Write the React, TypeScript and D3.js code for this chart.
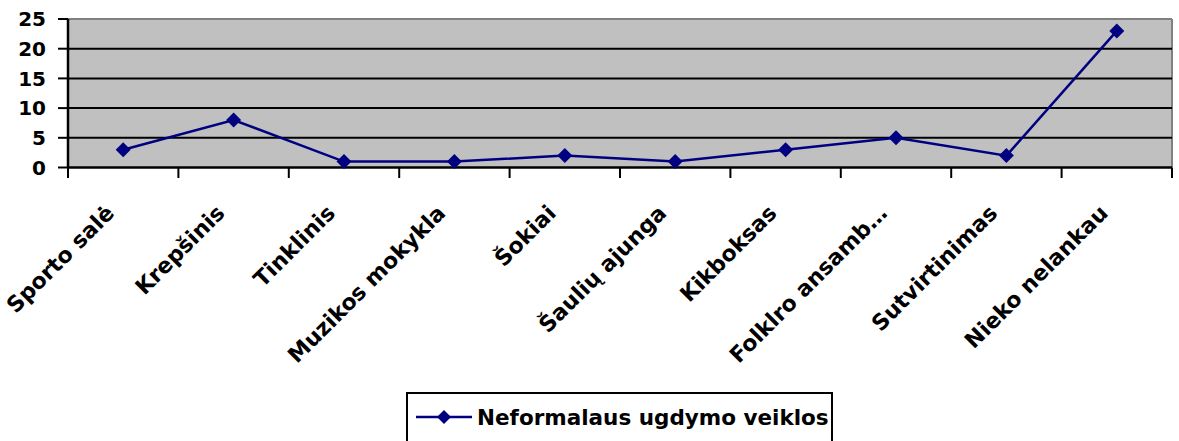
import React from "react";
import * as d3 from "d3";

const categories = [
  "Sporto salė",
  "Krepšinis",
  "Tinklinis",
  "Muzikos mokykla",
  "Šokiai",
  "Šaulių ajunga",
  "Kikboksas",
  "Folklro ansamb…",
  "Sutvirtinimas",
  "Nieko nelankau",
];
const values = [3, 8, 1, 1, 2, 1, 3, 5, 2, 23];
const yTicks = [0, 5, 10, 15, 20, 25];
const seriesName = "Neformalaus ugdymo veiklos";

const W = 1179;
const H = 441;
const left = 68;
const right = 1172;
const top = 19;
const bottom = 167.5;
const FONT = "'DejaVu Sans', Verdana, sans-serif";
const NAVY = "#000080";

export default function App() {
  const x = d3.scaleBand<string>().domain(categories).range([left, right]).padding(0);
  const y = d3.scaleLinear().domain([0, 25]).range([bottom, top]);
  const cx = (c: string) => (x(c) as number) + x.bandwidth() / 2;
  const line = d3
    .line<number>()
    .x((_, i) => cx(categories[i]))
    .y((d) => y(d));
  const diamond = (px: number, py: number, r = 7.5) =>
    `M${px},${py - r}L${px + r},${py}L${px},${py + r}L${px - r},${py}Z`;
  const boundaries = categories.map((c) => x(c) as number).concat([right]);

  return (
    <svg
      width={W}
      height={H}
      style={{ position: "absolute", left: 0, top: 0, display: "block" }}
    >
      <rect x={0} y={0} width={W} height={H} fill="#fff" />
      <rect x={left} y={top} width={right - left} height={bottom - top} fill="#C0C0C0" />
      <line x1={left} x2={right} y1={top} y2={top} stroke="#808080" strokeWidth={2} />
      <line x1={right} x2={right} y1={top} y2={bottom} stroke="#808080" strokeWidth={2} />
      {yTicks
        .filter((t) => t > 0 && t < 25)
        .map((t) => (
          <line key={t} x1={left} x2={right} y1={y(t)} y2={y(t)} stroke="#000" strokeWidth={2} />
        ))}
      <line x1={left} x2={left} y1={top} y2={bottom} stroke="#000" strokeWidth={2.5} />
      {yTicks.map((t) => (
        <g key={t}>
          <line x1={58} x2={left} y1={y(t)} y2={y(t)} stroke="#000" strokeWidth={2} />
          <text
            x={46}
            y={y(t)}
            dy="0.36em"
            textAnchor="end"
            fontFamily={FONT}
            fontWeight="bold"
            fontSize={20}
            fill="#000"
          >
            {t}
          </text>
        </g>
      ))}
      <line x1={left} x2={right} y1={bottom} y2={bottom} stroke="#000" strokeWidth={2.5} />
      {boundaries.map((b, i) => (
        <line key={i} x1={b} x2={b} y1={bottom} y2={178} stroke="#000" strokeWidth={2} />
      ))}
      {categories.map((c) => (
        <text
          key={c}
          transform={`translate(${cx(c) - 13},${209}) rotate(-45)`}
          dy="0.35em"
          textAnchor="end"
          fontFamily={FONT}
          fontWeight="bold"
          fontSize={22}
          fill="#000"
        >
          {c}
        </text>
      ))}
      <path d={line(values) || ""} fill="none" stroke={NAVY} strokeWidth={2.5} />
      {values.map((v, i) => (
        <path key={i} d={diamond(cx(categories[i]), y(v))} fill={NAVY} />
      ))}
      <rect x={407} y={393} width={425} height={60} fill="#fff" stroke="#000" strokeWidth={2} />
      <line x1={416} x2={472} y1={417} y2={417} stroke={NAVY} strokeWidth={2.5} />
      <path d={diamond(444, 417, 7)} fill={NAVY} />
      <text
        x={477}
        y={417}
        dy="0.36em"
        fontFamily={FONT}
        fontWeight="bold"
        fontSize={21.5}
        fill="#000"
      >
        {seriesName}
      </text>
    </svg>
  );
}
